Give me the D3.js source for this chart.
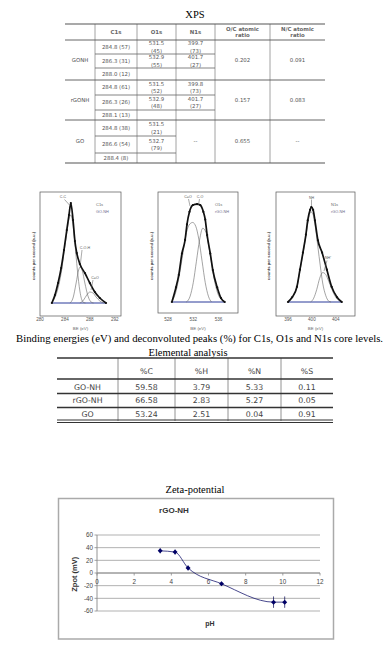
<!DOCTYPE html>
<html>
<head>
<meta charset="utf-8">
<script src="https://cdn.jsdelivr.net/npm/d3@7"></script>
<style>
  body { margin: 0; background: #fff; }
  svg { display: block; }
</style>
</head>
<body>
<div id="chart"></div>
<script>
// ---- XPS table ----
var xpsHeader = ["C1s", "O1s", "N1s", "O/C atomic|ratio", "N/C atomic|ratio"];
var xpsSamples = ["GONH", "rGONH", "GO"];
var xpsC1s = [["284.8 (57)", "286.3 (31)", "288.0 (12)"],
              ["284.8 (61)", "286.3 (26)", "288.1 (13)"],
              ["284.8 (38)", "286.6 (54)", "288.4 (8)"]];
var xpsO1s = [["531.5 (45)", "532.9 (55)"],
              ["531.5 (52)", "532.9 (48)"],
              ["531.5 (21)", "532.7 (79)"]];
var xpsN1s = [["399.7 (73)", "401.7 (27)"],
              ["399.8 (73)", "401.7 (27)"],
              []];
var xpsOC = ["0.202", "0.157", "0.655"];
var xpsNC = ["0.091", "0.083", "--"];

// ---- XPS spectra: [BE (eV), counts (a.u.)] ----
var c1sEnvelope = [[281.9, 0], [282.4, 8], [282.9, 20], [283.4, 35], [283.85, 53], [284.3, 73],
                   [284.65, 88], [284.95, 100], [285.3, 83], [285.6, 62], [285.9, 50], [286.4, 39],
                   [287.2, 30], [288.0, 20], [288.8, 11], [289.6, 5], [290.6, 0]];
var c1sPeakCC = [[281.9, 0], [282.9, 15], [283.4, 30], [283.85, 50], [284.3, 70], [284.65, 84],
                 [284.95, 88], [285.3, 78], [285.6, 60], [286.0, 33], [286.4, 12], [286.9, 1], [287.3, 0]];
var c1sPeakCO = [[284.8, 0], [285.3, 5], [285.8, 20], [286.2, 33], [286.45, 36], [286.8, 32],
                 [287.2, 20], [287.7, 7], [288.2, 1], [288.6, 0]];
var c1sPeakCdO = [[286.4, 0], [287.0, 3], [287.5, 8], [288.0, 11], [288.5, 10], [289.0, 6],
                  [289.6, 2], [290.2, 0]];

var o1sEnvelope = [[528.6, 0], [529.25, 15], [529.7, 28], [530.2, 50], [530.7, 64], [531.0, 80],
                   [531.4, 93], [531.95, 100], [532.6, 101], [533.1, 100], [533.6, 93], [533.9, 85],
                   [534.2, 69], [534.7, 50], [535.1, 33], [535.8, 15], [536.4, 4], [537.0, 0]];
var o1sPeakA = [[528.6, 0], [529.3, 12], [529.8, 28], [530.3, 48], [530.8, 68], [531.3, 79],
                [531.9, 82], [532.4, 78], [532.9, 64], [533.4, 42], [533.9, 20], [534.4, 6], [534.9, 0]];
var o1sPeakB = [[530.9, 0], [531.5, 6], [532.0, 20], [532.5, 42], [533.0, 64], [533.5, 76],
                [534.0, 72], [534.5, 56], [535.0, 36], [535.5, 18], [536.0, 7], [536.6, 2], [537.0, 0]];

var n1sEnvelope = [[396.0, 0], [396.7, 5], [397.5, 16], [398.0, 34], [398.5, 52], [399.0, 71],
                   [399.3, 86], [399.7, 97], [399.9, 100], [400.2, 97], [400.5, 86], [401.0, 65],
                   [401.7, 52], [402.5, 34], [403.3, 16], [404.2, 5], [405.0, 0]];
var n1sPeakA = [[396.0, 0], [396.7, 5], [397.5, 16], [398.0, 33], [398.5, 51], [399.0, 70],
                [399.4, 86], [399.8, 95], [400.2, 92], [400.6, 78], [401.0, 58], [401.4, 38],
                [401.8, 20], [402.3, 7], [402.8, 1], [403.2, 0]];
var n1sPeakB = [[399.8, 0], [400.3, 4], [400.8, 13], [401.3, 25], [401.8, 31], [402.3, 29],
                [402.8, 22], [403.3, 14], [403.8, 7], [404.4, 2], [405.0, 0]];

var c1sTicks = [280, 284, 288, 292];
var o1sTicks = [528, 532, 536];
var n1sTicks = [396, 400, 404];

var spectraCaption = "Binding energies (eV) and deconvoluted peaks (%) for C1s, O1s and N1s core levels.";

// ---- Elemental analysis ----
var eaSamples = ["GO-NH", "rGO-NH", "GO"];
var eaColumns = ["%C", "%H", "%N", "%S"];
var eaC = [59.58, 66.58, 53.24];
var eaH = [3.79, 2.83, 2.51];
var eaN = [5.33, 5.27, 0.04];
var eaS = [0.11, 0.05, 0.91];

// ---- Zeta potential ----
var zetaPH = [3.4, 4.2, 4.9, 6.7, 9.5, 10.1];
var zetaMV = [35, 33, 8, -17, -46, -46];
var zetaErr = [4, 4, 4, 3, 9, 9];
var zetaXTicks = [0, 2, 4, 6, 8, 10, 12];
var zetaYTicks = [-60, -40, -20, 0, 20, 40, 60];

var W = 392, H = 649;
var serif = "'Liberation Serif', 'Times New Roman', serif",
    verd = "'DejaVu Sans', Verdana, sans-serif",
    arial = "'Liberation Sans', Arial, sans-serif";

var svg = d3.select("#chart").append("svg")
    .attr("width", W)
    .attr("height", H);

// ================= XPS table =================
svg.append("text")
    .attr("x", 195).attr("y", 17.5)
    .attr("text-anchor", "middle")
    .attr("font-family", serif).attr("font-size", "10.5px")
    .text("XPS");

var xt = svg.append("g").attr("font-family", verd).attr("font-size", "5.4px").attr("fill", "#555");
var colEdges = [65, 95, 137, 176, 215, 270, 325];
var colMid = d3.range(6).map(i => (colEdges[i] + colEdges[i + 1]) / 2);
var rowTop = [40, 80, 120], rowBot = [80, 120, 163];
var subLines = [[54, 68], [95, 110], [136, 153]];

function subCenters(i) {
  var b = [rowTop[i], subLines[i][0], subLines[i][1], rowBot[i]];
  return [0, 1, 2].map(k => (b[k] + b[k + 1]) / 2);
}
function cellText(x, y, s) {
  xt.append("text").attr("x", x).attr("y", y + 1.9).attr("text-anchor", "middle").text(s);
}
function cellText2(x, y, s) {
  var parts = s.split(" ");
  cellText(x, y - 3.8, parts[0]);
  cellText(x, y + 3.8, parts[1]);
}

// vertical rules
colEdges.slice(1, 6).forEach(function(x) {
  xt.append("line").attr("x1", x).attr("x2", x).attr("y1", 24).attr("y2", 163)
      .attr("stroke", "#8a8a8a").attr("stroke-width", 0.8);
});
// full-width rules
[24, 40, 80, 120, 163].forEach(function(y, i) {
  xt.append("line").attr("x1", 65).attr("x2", 325).attr("y1", y).attr("y2", y)
      .attr("stroke", "#555").attr("stroke-width", i == 0 || i == 4 ? 1.1 : 0.9);
});
// sub-row rules
subLines.forEach(function(ys, i) {
  ys.forEach(function(y) {
    xt.append("line").attr("x1", 95).attr("x2", i == 2 ? 176 : 215).attr("y1", y).attr("y2", y)
        .attr("stroke", "#666").attr("stroke-width", 0.8);
  });
});

xpsHeader.forEach(function(h, i) {
  var lines = h.split("|"), x = colMid[i + 1];
  var g = xt.append("text").attr("text-anchor", "middle").attr("font-weight", "bold").attr("fill", "#666");
  if (lines.length == 1) {
    g.attr("x", x).attr("y", 34).text(lines[0]);
  } else {
    g.append("tspan").attr("x", x).attr("y", 30.5).text(lines[0]);
    g.append("tspan").attr("x", x).attr("y", 37.3).text(lines[1]);
  }
});

xpsSamples.forEach(function(s, i) {
  var mid = (rowTop[i] + rowBot[i]) / 2, sc = subCenters(i);
  cellText(colMid[0], mid, s);
  xpsC1s[i].forEach((v, k) => cellText(colMid[1], sc[k], v));
  xpsO1s[i].forEach((v, k) => cellText2(colMid[2], sc[k], v));
  if (xpsN1s[i].length) xpsN1s[i].forEach((v, k) => cellText2(colMid[3], sc[k], v));
  else cellText(colMid[3], mid, "--");
  cellText(colMid[4], mid, xpsOC[i]);
  cellText(colMid[5], mid, xpsNC[i]);
});

// ================= XPS spectra =================
var panels = [
  { env: c1sEnvelope, peaks: [c1sPeakCC, c1sPeakCO, c1sPeakCdO], ticks: c1sTicks,
    dom: [280, 293], box: [40, 121, 192, 316], yr: [303, 203], base: [281.9, 290.6],
    core: "C1s", sample: "GO-NH", lx: 96, ylab: 35,
    labels: [{ t: "C-C", x: 63, y: 198, a: [64.5, 199.5, 69.5, 205] },
             { t: "C-O-H", x: 85, y: 249, a: [82, 250, 80.5, 263] },
             { t: "C=O", x: 95, y: 279, a: [93, 280, 91, 290] }] },
  { env: o1sEnvelope, peaks: [o1sPeakA, o1sPeakB], ticks: o1sTicks,
    dom: [526.4, 539.1], box: [158, 238, 192, 313], yr: [302, 205], base: [528.6, 537.0],
    core: "O1s", sample: "rGO-NH", lx: 215, ylab: 153,
    labels: [{ t: "C=O", x: 188, y: 197.5, a: [188.5, 199, 190, 206] },
             { t: "C-O", x: 200, y: 197.5, a: [199.5, 199, 198.5, 205] }] },
  { env: n1sEnvelope, peaks: [n1sPeakA, n1sPeakB], ticks: n1sTicks,
    dom: [394, 407.2], box: [276, 355, 192, 316], yr: [302, 207], base: [396.0, 405.0],
    core: "N1s", sample: "rGO-NH", lx: 331, ylab: 270,
    labels: [{ t: "NH", x: 311.5, y: 198.5, a: [311.5, 199.5, 311.5, 206] },
             { t: "NH\u207A", x: 328, y: 259, a: [327, 260.5, 324, 271] }] }
];

panels.forEach(function(p) {
  var g = svg.append("g");
  var x = d3.scaleLinear().domain(p.dom).range([p.box[0], p.box[1]]);
  var y = d3.scaleLinear().domain([0, 100]).range(p.yr);
  var line = d3.line().x(d => x(d[0])).y(d => y(d[1])).curve(d3.curveMonotoneX);

  g.append("rect")
      .attr("x", p.box[0]).attr("y", p.box[2])
      .attr("width", p.box[1] - p.box[0]).attr("height", p.box[3] - p.box[2])
      .attr("fill", "none").attr("stroke", "#555").attr("stroke-width", 0.7);

  // baseline
  g.append("line")
      .attr("x1", x(p.base[0])).attr("x2", x(p.base[1]))
      .attr("y1", y(0)).attr("y2", y(0))
      .attr("stroke", "#2b3a9a").attr("stroke-width", 1);

  p.peaks.forEach(function(pk) {
    g.append("path").datum(pk).attr("d", line)
        .attr("fill", "none").attr("stroke", "#666").attr("stroke-width", 0.6);
  });

  g.append("path").datum(p.env).attr("d", line)
      .attr("fill", "none").attr("stroke", "#111").attr("stroke-width", 1.7);
  g.selectAll("circle").data(p.env).enter().append("circle")
      .attr("cx", d => x(d[0])).attr("cy", d => y(d[1])).attr("r", 1.1)
      .attr("fill", "#111");

  g.selectAll(".tk").data(p.ticks).enter().append("text")
      .attr("x", d => x(d)).attr("y", 321)
      .attr("text-anchor", "middle")
      .attr("font-family", arial).attr("font-size", "4.6px").attr("fill", "#555")
      .text(d => d);

  g.append("text")
      .attr("x", (p.box[0] + p.box[1]) / 2).attr("y", 329.5)
      .attr("text-anchor", "middle")
      .attr("font-family", arial).attr("font-size", "4.4px").attr("fill", "#666")
      .text("BE (eV)");

  g.append("text")
      .attr("transform", "translate(" + p.ylab + ",256) rotate(-90)")
      .attr("text-anchor", "middle")
      .attr("font-family", arial).attr("font-size", "4.2px").attr("font-weight", "bold").attr("fill", "#444")
      .text("counts per second (a.u.)");

  g.append("text").attr("x", p.lx).attr("y", 206)
      .attr("font-family", arial).attr("font-size", "4px").attr("fill", "#666").text(p.core);
  g.append("text").attr("x", p.lx).attr("y", 213)
      .attr("font-family", arial).attr("font-size", "3.8px").attr("fill", "#6a6a8a").text(p.sample);

  p.labels.forEach(function(l) {
    g.append("text").attr("x", l.x).attr("y", l.y)
        .attr("text-anchor", "middle")
        .attr("font-family", arial).attr("font-size", "3.6px").attr("fill", "#555").text(l.t);
    g.append("line").attr("x1", l.a[0]).attr("y1", l.a[1]).attr("x2", l.a[2]).attr("y2", l.a[3])
        .attr("stroke", "#555").attr("stroke-width", 0.5);
  });
});

svg.append("text")
    .attr("x", 199.5).attr("y", 342)
    .attr("text-anchor", "middle")
    .attr("font-family", serif).attr("font-size", "10px")
    .attr("textLength", 367).attr("lengthAdjust", "spacingAndGlyphs")
    .text(spectraCaption);

// ================= Elemental analysis =================
svg.append("text")
    .attr("x", 188).attr("y", 355.5)
    .attr("text-anchor", "middle")
    .attr("font-family", serif).attr("font-size", "10.5px")
    .text("Elemental analysis");

var et = svg.append("g").attr("font-family", verd).attr("font-size", "7.8px").attr("fill", "#444");
var eaEdges = [57, 118, 175, 228, 281, 333];
var eaMid = d3.range(5).map(i => (eaEdges[i] + eaEdges[i + 1]) / 2);
var eaRowY = [371, 387, 400.5, 414];

eaEdges.slice(1, 5).forEach(function(x) {
  et.append("line").attr("x1", x).attr("x2", x).attr("y1", 358).attr("y2", 421)
      .attr("stroke", "#777").attr("stroke-width", 0.8);
});
[[358, 1.6], [379, 1.6], [393.5, 1.4], [407.5, 1.4], [420, 1], [422.5, 1]].forEach(function(r) {
  et.append("line").attr("x1", 57).attr("x2", 333).attr("y1", r[0]).attr("y2", r[0])
      .attr("stroke", "#333").attr("stroke-width", r[1]);
});

eaColumns.forEach(function(c, i) {
  et.append("text").attr("x", eaMid[i + 1]).attr("y", eaRowY[0] + 2.8)
      .attr("text-anchor", "middle").text(c);
});
var eaValues = [eaC, eaH, eaN, eaS];
eaSamples.forEach(function(s, r) {
  et.append("text").attr("x", eaMid[0]).attr("y", eaRowY[r + 1] + 2.8)
      .attr("text-anchor", "middle").text(s);
  eaValues.forEach(function(col, i) {
    et.append("text").attr("x", eaMid[i + 1]).attr("y", eaRowY[r + 1] + 2.8)
        .attr("text-anchor", "middle").text(col[r].toFixed(2));
  });
});

// ================= Zeta potential =================
svg.append("text")
    .attr("x", 195).attr("y", 492.5)
    .attr("text-anchor", "middle")
    .attr("font-family", serif).attr("font-size", "10.5px")
    .text("Zeta-potential");

var zg = svg.append("g").attr("font-family", arial);
zg.append("rect")
    .attr("x", 58.5).attr("y", 498.5).attr("width", 275).attr("height", 140.5)
    .attr("fill", "#fff").attr("stroke", "#aaa").attr("stroke-width", 1.5);

zg.append("text")
    .attr("x", 174).attr("y", 513)
    .attr("text-anchor", "middle")
    .attr("font-size", "8px").attr("font-weight", "bold").attr("fill", "#333")
    .text("rGO-NH");

var zx = d3.scaleLinear().domain([0, 12]).range([97, 320]);
var zy = d3.scaleLinear().domain([-60, 60]).range([611, 535]);

zg.selectAll(".grid").data(zetaYTicks).enter().append("line")
    .attr("x1", zx(0)).attr("x2", zx(12))
    .attr("y1", d => zy(d)).attr("y2", d => zy(d))
    .attr("stroke", "#a8a8a8").attr("stroke-width", 0.9);

zg.append("line")
    .attr("x1", zx(0)).attr("x2", zx(0)).attr("y1", zy(60)).attr("y2", zy(-60))
    .attr("stroke", "#888").attr("stroke-width", 0.9);
zg.append("line")
    .attr("x1", zx(0)).attr("x2", zx(12)).attr("y1", zy(0)).attr("y2", zy(0))
    .attr("stroke", "#888").attr("stroke-width", 0.9);

zg.selectAll(".ytk").data(zetaYTicks).enter().append("line")
    .attr("x1", zx(0) - 2.5).attr("x2", zx(0))
    .attr("y1", d => zy(d)).attr("y2", d => zy(d))
    .attr("stroke", "#888").attr("stroke-width", 0.8);
zg.selectAll(".xtk").data(zetaXTicks).enter().append("line")
    .attr("x1", d => zx(d)).attr("x2", d => zx(d))
    .attr("y1", zy(0)).attr("y2", zy(0) + 2.5)
    .attr("stroke", "#888").attr("stroke-width", 0.8);

zg.selectAll(".ylab").data(zetaYTicks).enter().append("text")
    .attr("x", zx(0) - 4).attr("y", d => zy(d) + 2.2)
    .attr("text-anchor", "end")
    .attr("font-size", "6.3px").attr("fill", "#444")
    .text(d => d);
zg.selectAll(".xlab").data(zetaXTicks).enter().append("text")
    .attr("x", d => zx(d)).attr("y", zy(0) + 10.5)
    .attr("text-anchor", "middle")
    .attr("font-size", "6.3px").attr("fill", "#444")
    .text(d => d);

zg.append("text")
    .attr("transform", "translate(77," + zy(-2) + ") rotate(-90)")
    .attr("text-anchor", "middle")
    .attr("font-size", "7.5px").attr("font-weight", "bold").attr("fill", "#333")
    .text("Zpot (mV)");
zg.append("text")
    .attr("x", 210).attr("y", 626)
    .attr("text-anchor", "middle")
    .attr("font-size", "7px").attr("font-weight", "bold").attr("fill", "#333")
    .text("pH");

var zData = zetaPH.map((p, i) => ({ ph: p, mv: zetaMV[i], err: zetaErr[i] }));

zg.selectAll(".err").data(zData).enter().append("line")
    .attr("x1", d => zx(d.ph)).attr("x2", d => zx(d.ph))
    .attr("y1", d => zy(d.mv + d.err)).attr("y2", d => zy(d.mv - d.err))
    .attr("stroke", "#000050").attr("stroke-width", 0.7);

zg.append("path").datum(zData)
    .attr("d", d3.line().x(d => zx(d.ph)).y(d => zy(d.mv)).curve(d3.curveMonotoneX))
    .attr("fill", "none").attr("stroke", "#1a1a70").attr("stroke-width", 0.8);

zg.selectAll(".pt").data(zData).enter().append("path")
    .attr("transform", d => "translate(" + zx(d.ph) + "," + zy(d.mv) + ")")
    .attr("d", d3.symbol(d3.symbolDiamond2, 16))
    .attr("fill", "#000066");
</script>
</body>
</html>
